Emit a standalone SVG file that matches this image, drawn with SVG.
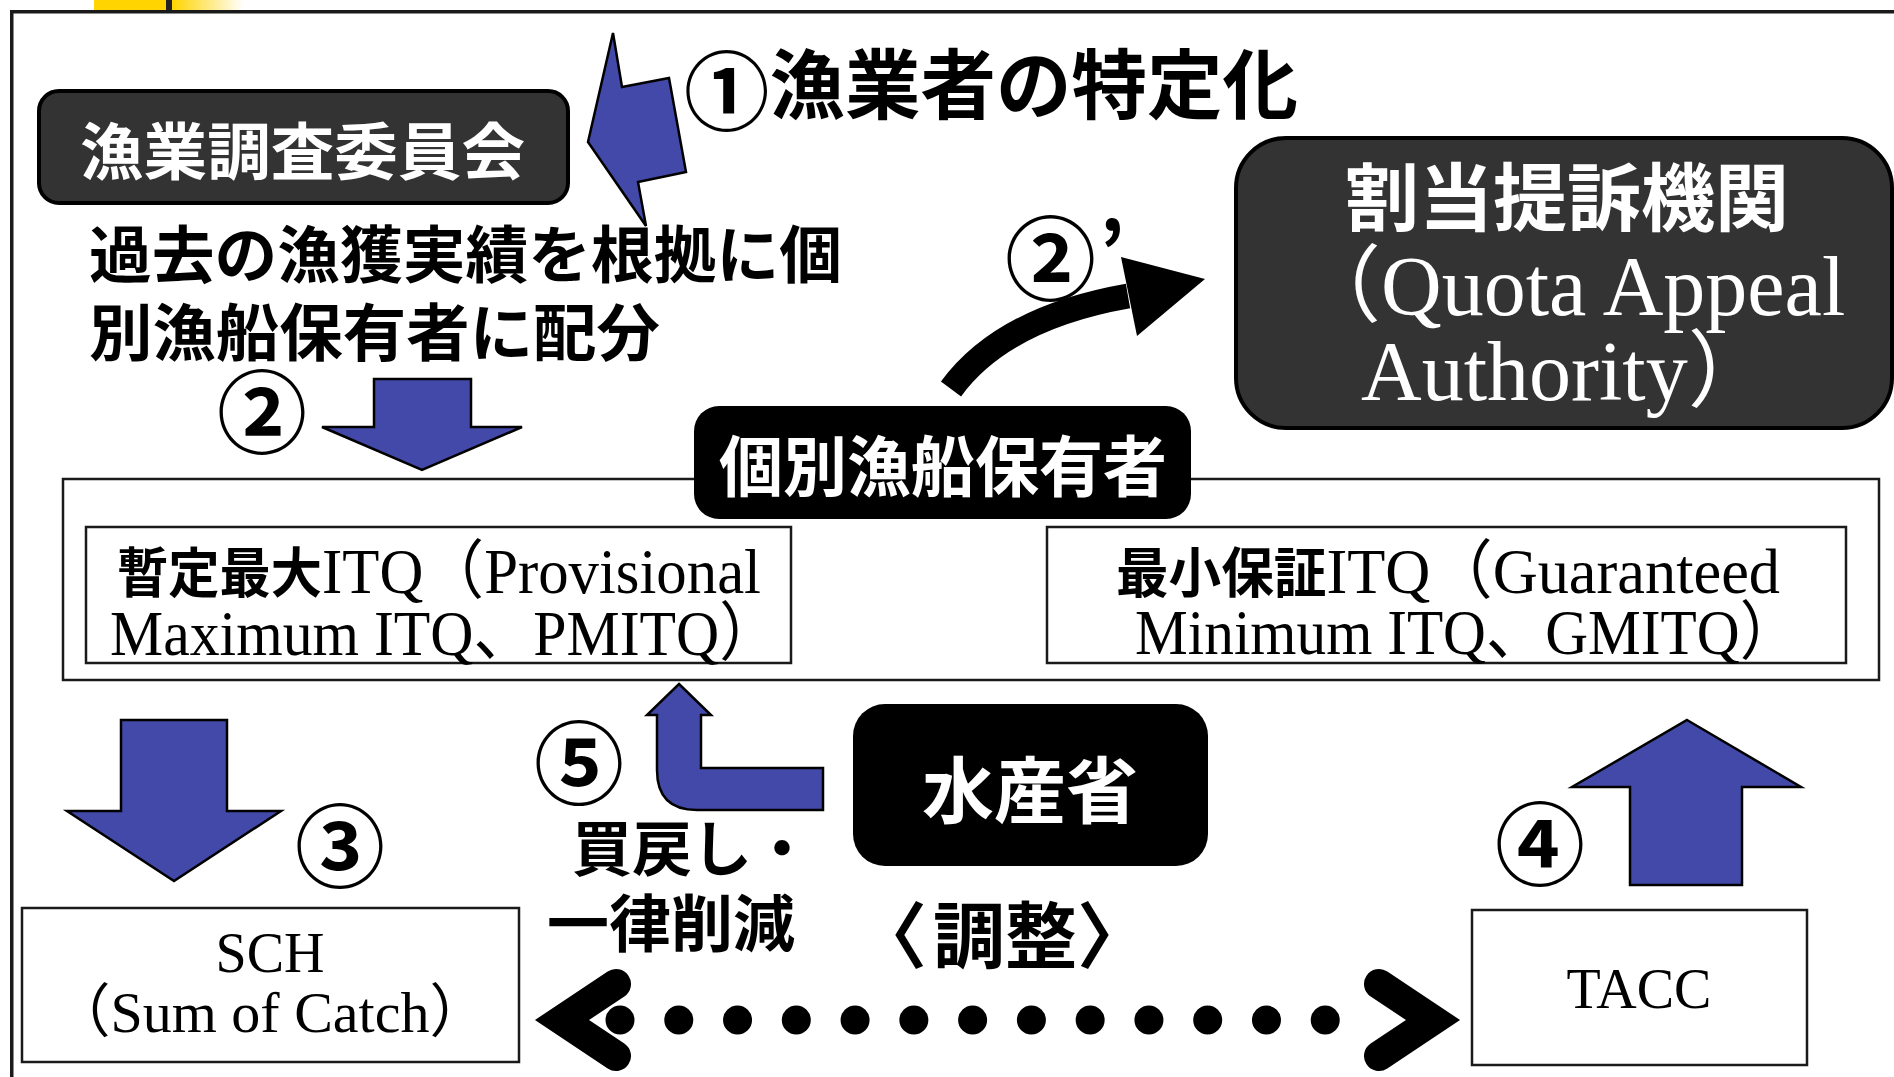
<svg xmlns="http://www.w3.org/2000/svg" width="1894" height="1077" viewBox="0 0 1894 1077">
<defs>
<style>
.jp{font-family:"Noto Sans CJK JP","Noto Sans CJK SC",sans-serif;font-weight:700;}
.serif{font-family:"Liberation Serif","Noto Sans CJK JP",serif;font-weight:400;}
.num{font-family:"Noto Sans CJK JP",sans-serif;font-weight:700;fill:#000;}
.blk{fill:#000;}
.wht{fill:#fff;}
.box{fill:#fff;stroke:#1a1a1a;stroke-width:2.5;}
.blue{fill:#4349A9;stroke:#000;stroke-width:2.5;stroke-linejoin:miter;}
</style>
<linearGradient id="fade" x1="0" y1="0" x2="1" y2="0">
<stop offset="0" stop-color="#FFD400"/>
<stop offset="1" stop-color="#FFD400" stop-opacity="0"/>
</linearGradient>
</defs>
<rect width="1894" height="1077" fill="#fff"/>
<g id="header-bar">
<rect x="94" y="0" width="72" height="10" fill="#FFD400"/>
<rect x="166" y="0" width="6" height="10" fill="#222"/>
<rect x="172" y="0" width="72" height="10" fill="url(#fade)"/>
</g>
<rect id="frame" x="11.75" y="11.75" width="1900" height="1100" fill="none" stroke="#1a1a1a" stroke-width="3.5"/>

<g id="container-itq">
<rect x="63" y="479" width="1816" height="201" class="box"/>
</g>

<g id="node-committee">
<rect x="39" y="91" width="529" height="112" rx="20" fill="#333" stroke="#000" stroke-width="4"/>
<text x="80" y="175" class="jp wht" font-size="62" textLength="445" lengthAdjust="spacingAndGlyphs">漁業調査委員会</text>
</g>

<g id="label-1">
<text x="684" y="113" class="jp blk" font-size="76" textLength="614" lengthAdjust="spacingAndGlyphs"><tspan font-size="86" dy="11">①</tspan><tspan dy="-11">漁業者の特定化</tspan></text>
</g>

<g id="node-qaa">
<rect x="1236" y="138" width="656" height="290" rx="50" fill="#333" stroke="#000" stroke-width="4"/>
<text x="1567" y="225" text-anchor="middle" class="jp wht" font-size="74">割当提訴機関</text>
<text x="1297" y="315" class="serif wht" font-size="84">（Quota Appeal</text>
<text x="1361" y="400" class="serif wht" font-size="84">Authority）</text>
</g>

<g id="text-allocation">
<text x="89" y="278" class="jp blk" font-size="62" textLength="753" lengthAdjust="spacingAndGlyphs">過去の漁獲実績を根拠に個</text>
<text x="89" y="356" class="jp blk" font-size="62" textLength="571" lengthAdjust="spacingAndGlyphs">別漁船保有者に配分</text>
</g>

<g id="label-2">
<text x="262" y="446" text-anchor="middle" class="num" font-size="90">②</text>
</g>
<g id="label-2dash">
<text x="1005" y="293" class="num" font-size="91">②<tspan x="1099" y="281" font-size="80">’</tspan></text>
</g>

<g id="node-owners">
<rect x="694" y="406" width="497" height="113" rx="25" fill="#000"/>
<text x="719" y="491" class="jp wht" font-size="66" textLength="448" lengthAdjust="spacingAndGlyphs">個別漁船保有者</text>
</g>

<g id="node-pmitq">
<rect x="86" y="527" width="705" height="136" class="box"/>
<text x="117" y="593" class="blk" textLength="644" lengthAdjust="spacingAndGlyphs"><tspan class="jp" font-size="54">暫定最大</tspan><tspan class="serif" font-size="64">ITQ（Provisional</tspan></text>
<text x="110" y="655" class="serif blk" font-size="64" textLength="669" lengthAdjust="spacingAndGlyphs">Maximum ITQ、PMITQ）</text>
</g>

<g id="node-gmitq">
<rect x="1047" y="527" width="799" height="136" class="box"/>
<text x="1116" y="593" class="blk" textLength="664" lengthAdjust="spacingAndGlyphs"><tspan class="jp" font-size="54">最小保証</tspan><tspan class="serif" font-size="64">ITQ（Guaranteed</tspan></text>
<text x="1135" y="654" class="serif blk" font-size="64" textLength="664" lengthAdjust="spacingAndGlyphs">Minimum ITQ、GMITQ）</text>
</g>

<g id="node-ministry">
<rect x="853" y="704" width="355" height="162" rx="32" fill="#000"/>
<text x="1030" y="817" text-anchor="middle" class="jp wht" font-size="72">水産省</text>
</g>

<g id="label-5">
<text x="579" y="797" text-anchor="middle" class="num" font-size="90">⑤</text>
<text x="572" y="871" class="jp blk" font-size="60">買戻し・</text>
<text x="547" y="947" class="jp blk" font-size="62" textLength="248" lengthAdjust="spacingAndGlyphs">一律削減</text>
</g>

<g id="label-3">
<text x="340" y="880" text-anchor="middle" class="num" font-size="90">③</text>
</g>
<g id="label-4">
<text x="1540" y="878" text-anchor="middle" class="num" font-size="90">④</text>
</g>

<g id="label-adjust">
<text x="855" y="962" class="jp blk" font-size="72">〈<tspan x="933">調整〉</tspan></text>
</g>

<g id="node-sch">
<rect x="22" y="908" width="497" height="154" class="box"/>
<text x="270" y="972" text-anchor="middle" class="serif blk" font-size="56">SCH</text>
<text x="270" y="1032" text-anchor="middle" class="serif blk" font-size="58">（Sum of Catch）</text>
</g>

<g id="node-tacc">
<rect x="1472" y="910" width="335" height="155" class="box"/>
<text x="1639" y="1008" text-anchor="middle" class="serif blk" font-size="56">TACC</text>
</g>

<g id="connectors">
<polygon class="blue" points="613,33 622,87 669,78 686,172 638,182 646,226 588,142"/>
<polygon class="blue" points="374,379 471,379 471,427 522,427 422,470 322,427 374,427"/>
<path d="M951,389 Q1003,318 1128,296" fill="none" stroke="#000" stroke-width="25"/>
<polygon points="1121,257 1205,279 1137,336" fill="#000"/>
<polygon class="blue" points="121,720 227,720 227,811 281,811 174,881 67,811 121,811"/>
<polygon class="blue" points="1687,720 1801,787 1742,787 1742,885 1630,885 1630,787 1572,787"/>
<path class="blue" d="M679,684 L711,715 L701,715 L701,768 L823,768 L823,810 L697,810 Q657,810 657,770 L657,715 L647,715 Z"/>
<path d="M620,1020 L1384,1020" stroke="#000" stroke-width="29" stroke-linecap="round" stroke-dasharray="0 58.77" fill="none"/>
<polyline points="616,984 562,1020 616,1056" fill="none" stroke="#000" stroke-width="30" stroke-linecap="round" stroke-linejoin="miter" stroke-miterlimit="10"/>
<polyline points="1379,984 1433,1020 1379,1056" fill="none" stroke="#000" stroke-width="30" stroke-linecap="round" stroke-linejoin="miter" stroke-miterlimit="10"/>
</g>
</svg>
